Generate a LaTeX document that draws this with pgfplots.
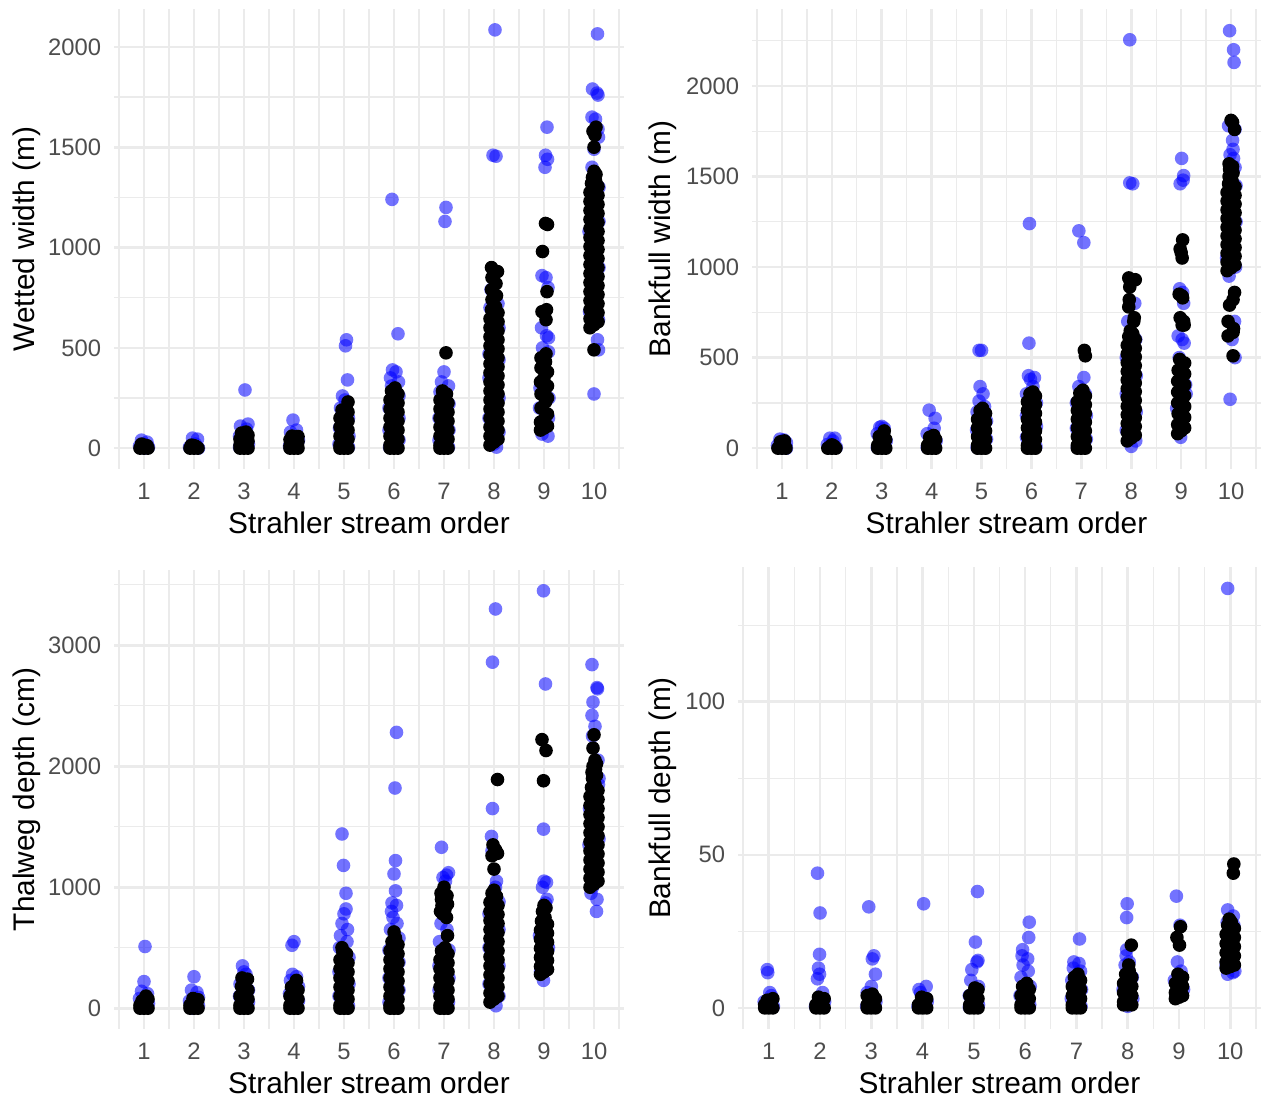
\documentclass[border=0pt]{standalone}
\usepackage{fontspec}
\setmainfont{Liberation Sans}
\usepackage{pgfplots}
\pgfplotsset{compat=1.18}
\definecolor{gridgray}{HTML}{EBEBEB}
\definecolor{ticktext}{HTML}{4D4D4D}

\pgfplotsset{
  strip/.style={
    scale only axis,
    anchor=south west,
    axis line style={draw=none},
    xmin=0.4, xmax=10.6,
    xtick={1,...,10},
    minor xtick={0.5,1.5,...,10.5},
    grid=both,
    major grid style={draw=gridgray, line width=1.3pt},
    minor grid style={draw=gridgray, line width=0.65pt},
    major tick length=0pt, minor tick length=0pt,
    /pgf/number format/assume math mode=true,
    /pgf/number format/1000 sep={},
    tick label style={font=\fontsize{11.9}{14}\selectfont, text=ticktext},
    xticklabel style={anchor=base, inner sep=0pt, yshift=-15pt},
    yticklabel style={anchor=east, inner sep=0pt, xshift=-6.3pt},
    label style={font=\fontsize{14.9}{17}\selectfont},
    xlabel={Strahler stream order},
    xlabel style={at={(rel axis cs:0.5,0)}, anchor=base, yshift=-32.3pt},
    ylabel style={at={(rel axis cs:0,0.5)}, anchor=center},
  },
  bluepts/.style={only marks, mark=*, mark size=3.4pt,
    mark options={fill=blue, fill opacity=0.55, draw opacity=0}},
  blackpts/.style={only marks, mark=*, mark size=3.4pt,
    mark options={fill=black, draw opacity=0}},
}

\begin{document}
\begin{tikzpicture}
\useasboundingbox (0,0) rectangle (634pt,550pt);

% wetted width
\begin{axis}[strip, at={(57pt,315.5pt)}, width=255pt, height=230pt,
  ymin=-104, ymax=2189, ytick={0,500,...,2000}, minor ytick={250,750,1250,1750},
  ylabel={Wetted width (m)}, ylabel style={yshift=43.5pt}]
\addplot[bluepts] coordinates {
(0.95,40) (1.06,30) (1.0,20) (0.91,10) (1.09,5) (1.02,0)
(1.97,50) (2.07,45) (2.03,20) (1.91,5) (2.09,0)
(3.02,290) (2.93,110) (3.08,120) (3.05,95) (2.91,60) (3.09,20) (2.91,5)
(3.98,140) (4.05,90) (3.93,80) (4.09,40) (3.91,10)
(5.05,540) (5.03,510) (5.07,340) (4.97,260) (5.02,240) (4.93,200) (5.09,150) (4.91,100) (5.1,60) (4.9,20) (5.09,5)
(5.96,1240) (6.08,570) (5.97,390) (6.04,380) (5.93,350) (6.09,330) (5.95,310) (6.1,260) (5.9,200) (6.1,150) (5.9,90) (6.1,40) (5.91,5)
(7.04,1200) (7.02,1130) (7.0,380) (6.95,330) (7.09,310) (6.92,280) (7.1,220) (6.9,150) (7.1,90) (6.9,40) (7.09,5)
(8.02,2085) (7.98,1460) (8.04,1455) (7.94,790) (8.08,720) (7.92,700) (8.1,600) (7.9,470) (8.1,440) (7.9,350) (8.1,250) (7.9,150) (8.1,80) (8.0,20) (8.05,5)
(9.06,1600) (9.03,1460) (9.07,1440) (9.02,1400) (8.96,860) (9.04,850) (9.08,800) (8.95,600) (9.05,560) (9.09,550) (8.97,500) (9.09,480) (8.92,300) (9.1,250) (8.91,200) (9.09,150) (9.08,60) (8.96,70)
(10.07,2065) (9.97,1790) (10.06,1770) (10.08,1760) (9.96,1650) (10.03,1640) (10.08,1590) (10.09,1550) (10.0,1490) (9.96,1400) (10.1,1300) (10.1,1130) (9.9,1080) (10.1,900) (9.91,680) (10.09,640) (10.07,540) (10.09,490) (10.0,270)
};
\addplot[blackpts] coordinates {
(0.92,0) (1.0,0) (1.08,0) (0.96,5) (1.04,8) (1.0,15) (0.95,20) (1.06,12)
(1.92,0) (2.0,0) (2.08,0) (1.96,5) (2.04,8) (2.0,12) (1.95,15)
(2.92,0) (3.0,0) (3.08,0) (2.92,15) (3.0,25) (3.08,35) (2.92,45) (3.0,55) (3.08,65) (2.95,75) (3.04,80)
(3.92,0) (4.0,0) (4.08,0) (3.92,12) (4.0,22) (4.08,32) (3.92,42) (4.0,50) (4.08,58) (3.96,60)
(4.92,0) (5.0,0) (5.08,0) (4.92,15) (5.0,30) (5.08,45) (4.92,60) (5.0,75) (5.08,90) (4.92,105) (5.0,120) (5.08,135) (4.92,150) (5.0,165) (5.08,180) (4.96,190) (5.08,230)
(5.92,0) (6.0,0) (6.08,0) (5.92,15) (6.0,30) (6.08,45) (5.92,60) (6.0,75) (6.08,90) (5.92,105) (6.0,120) (6.08,135) (5.92,150) (6.0,165) (6.08,180) (5.92,195) (6.0,210) (6.08,225) (5.92,240) (6.0,255) (6.08,270) (5.95,285) (6.02,300)
(6.92,0) (7.0,0) (7.08,0) (6.92,15) (7.0,30) (7.08,45) (6.92,60) (7.0,75) (7.08,90) (6.92,105) (7.0,120) (7.08,135) (6.92,150) (7.0,165) (7.08,180) (6.92,195) (7.0,210) (7.08,225) (6.92,240) (7.0,255) (7.05,270) (6.97,285) (7.04,475)
(7.92,15) (8.0,30) (8.08,45) (7.92,60) (8.0,75) (8.08,90) (7.92,105) (8.0,120) (8.08,135) (7.92,150) (8.0,165) (8.08,180) (7.92,195) (8.0,210) (8.08,225) (7.92,240) (8.0,255) (8.08,270) (7.92,285) (8.0,300) (8.08,315) (7.92,330) (8.0,345) (8.08,360) (7.92,375) (8.0,390) (8.08,405) (7.92,420) (8.0,435) (8.08,450) (7.92,465) (8.0,480) (8.08,495) (7.92,510) (8.0,525) (8.08,540) (7.92,555) (8.0,570) (8.08,585) (7.92,600) (8.0,615) (8.08,630) (7.92,645) (8.0,660) (8.08,675) (7.95,690) (8.03,705)
(7.96,740) (8.05,760) (7.95,790) (8.04,820) (7.96,850) (8.07,880) (7.95,900)
(8.93,90) (9.0,100) (9.07,110) (8.93,130) (9.02,150) (9.07,170) (8.94,200) (9.03,230) (9.07,250) (8.94,270) (9.02,290) (9.07,310) (8.93,330) (9.0,350) (9.07,380) (8.94,400) (9.03,430) (8.94,450) (9.04,470)
(9.04,640) (8.96,680) (9.05,690) (9.06,780) (8.97,980) (9.03,1120) (9.07,1115)
(9.92,600) (10.0,615) (10.08,630) (9.92,645) (10.0,660) (10.08,675) (9.92,690) (10.0,705) (10.08,720) (9.92,735) (10.0,750) (10.08,765) (9.92,780) (10.0,795) (10.08,810) (9.92,825) (10.0,840) (10.08,855) (9.92,870) (10.0,885) (10.08,900) (9.92,915) (10.0,930) (10.08,945) (9.92,960) (10.0,975) (10.08,990) (9.92,1005) (10.0,1020) (10.08,1035) (9.92,1050) (10.0,1065) (10.08,1080) (9.92,1095) (10.0,1110) (10.08,1125) (9.92,1140) (10.0,1155) (10.08,1170) (9.92,1185) (10.0,1200) (10.08,1215) (9.92,1230) (10.0,1245) (10.08,1260) (9.92,1275) (10.0,1290) (10.08,1305) (9.95,1320) (10.03,1335) (9.97,1350) (10.04,1365) (10.0,1380)
(10.0,1500) (10.02,1560) (9.98,1580) (10.04,1600) (10.0,490)
};
\end{axis}

% bankfull width
\begin{axis}[strip, at={(376pt,315.5pt)}, width=254.5pt, height=230pt,
  ymin=-115, ymax=2425, ytick={0,500,...,2000}, minor ytick={250,750,1250,1750,2250},
  ylabel={Bankfull width (m)}, ylabel style={yshift=44.5pt}]
\addplot[bluepts] coordinates {
(0.96,50) (1.04,45) (1.09,30) (0.91,15) (1.02,5) (1.09,0)
(1.96,55) (2.06,55) (2.02,40) (1.91,20) (2.09,5)
(3.0,120) (2.96,115) (3.05,110) (2.91,80) (3.09,40) (2.91,5)
(3.95,210) (4.07,165) (4.05,110) (3.91,80) (4.09,40) (3.91,5)
(4.95,540) (5.0,540) (4.97,340) (5.03,300) (4.95,260) (5.06,230) (4.91,200) (5.1,150) (4.9,100) (5.1,50) (4.91,5)
(5.96,1240) (5.95,580) (5.94,400) (6.06,390) (5.98,380) (6.03,340) (5.9,300) (6.1,250) (5.9,180) (6.1,120) (5.9,60) (6.09,10)
(6.95,1200) (7.05,1135) (7.05,390) (6.95,340) (7.08,300) (6.9,250) (7.1,180) (6.9,110) (7.1,50) (6.92,5)
(7.97,2255) (7.97,1465) (8.03,1460) (8.07,800) (7.93,700) (8.09,600) (7.9,500) (8.1,400) (7.9,300) (8.1,200) (7.9,100) (8.09,40) (8.0,10)
(9.01,1600) (9.05,1505) (9.04,1480) (8.98,1460) (8.97,880) (9.03,860) (9.05,800) (8.94,620) (9.02,600) (9.06,580) (8.96,500) (9.09,350) (8.91,220) (9.1,300) (8.99,60)
(9.97,2305) (10.05,2200) (10.06,2130) (9.95,1780) (10.08,1760) (10.03,1700) (10.04,1650) (9.98,1620) (10.05,1600) (10.08,1550) (10.1,1450) (10.1,1250) (9.91,1050) (10.09,1000) (9.96,950) (10.07,700) (10.02,600) (10.08,500) (9.98,270)
};
\addplot[blackpts] coordinates {
(0.92,0) (1.0,0) (1.08,0) (0.96,10) (1.04,15) (1.0,25) (0.97,35) (1.05,40)
(1.92,0) (2.0,0) (2.08,0) (1.96,8) (2.04,12) (2.0,18)
(2.92,0) (3.0,0) (3.08,0) (2.92,16) (3.0,32) (3.08,48) (2.95,64) (3.03,80) (3.05,95)
(3.92,0) (4.0,0) (4.08,0) (3.92,16) (4.0,32) (4.08,48) (3.96,60) (4.04,70)
(4.92,0) (5.0,0) (5.08,0) (4.92,16) (5.0,32) (5.08,48) (4.92,64) (5.0,80) (5.08,96) (4.92,112) (5.0,128) (5.08,144) (4.92,160) (5.0,176) (5.08,192) (4.97,208) (5.02,220)
(5.92,0) (6.0,0) (6.08,0) (5.92,16) (6.0,32) (6.08,48) (5.92,64) (6.0,80) (6.08,96) (5.92,112) (6.0,128) (6.08,144) (5.92,160) (6.0,176) (6.08,192) (5.92,208) (6.0,224) (6.08,240) (5.92,256) (6.0,272) (6.08,288) (5.97,300) (6.03,310)
(6.92,0) (7.0,0) (7.08,0) (6.92,16) (7.0,32) (7.08,48) (6.92,64) (7.0,80) (7.08,96) (6.92,112) (7.0,128) (7.08,144) (6.92,160) (7.0,176) (7.08,192) (6.92,208) (7.0,224) (7.08,240) (6.92,256) (7.0,272) (7.08,288) (6.97,304) (7.03,320) (7.06,540) (7.08,510)
(7.92,40) (8.0,56) (8.08,72) (7.92,88) (8.0,104) (8.08,120) (7.92,136) (8.0,152) (8.08,168) (7.92,184) (8.0,200) (8.08,216) (7.92,232) (8.0,248) (8.08,264) (7.92,280) (8.0,296) (8.08,312) (7.92,328) (8.0,344) (8.08,360) (7.92,376) (8.0,392) (8.08,408) (7.92,424) (8.0,440) (8.08,456) (7.92,472) (8.0,488) (8.08,504) (7.92,520) (8.0,536) (8.08,552) (7.92,568) (8.0,584) (8.08,600) (7.95,616) (8.03,632) (7.98,648)
(8.05,700) (8.06,720) (7.95,780) (7.96,820) (7.97,890) (7.95,940) (8.08,930) (7.98,920)
(8.93,80) (9.0,96) (9.07,112) (8.93,130) (9.0,150) (9.07,170) (8.94,190) (9.02,210) (9.07,230) (8.93,250) (9.0,270) (9.07,290) (8.93,310) (9.0,330) (9.07,350) (8.93,370) (9.0,390) (9.07,410) (8.94,430) (9.02,450) (9.07,470) (8.97,490)
(9.02,680) (9.05,700) (8.98,720) (9.06,680) (8.96,850) (9.02,840) (9.03,830) (9.0,1080) (9.02,1050) (8.98,1100) (9.03,1150)
(9.92,980) (10.0,996) (10.08,1012) (9.92,1028) (10.0,1044) (10.08,1060) (9.92,1076) (10.0,1092) (10.08,1108) (9.92,1124) (10.0,1140) (10.08,1156) (9.92,1172) (10.0,1188) (10.08,1204) (9.92,1220) (10.0,1236) (10.08,1252) (9.92,1268) (10.0,1284) (10.08,1300) (9.92,1316) (10.0,1332) (10.08,1348) (9.92,1364) (10.0,1380) (10.08,1396) (9.92,1412) (10.0,1428) (10.08,1444) (9.95,1460) (10.02,1476) (9.96,1500) (10.04,1520) (9.97,1540) (10.03,1555) (9.96,1570)
(10.0,1810) (10.03,1800) (10.07,1760) (10.07,860) (10.04,820) (9.97,790) (9.94,700) (10.05,660) (10.04,640) (9.94,620) (10.04,510)
};
\end{axis}

% thalweg depth
\begin{axis}[strip, at={(57pt,35.5pt)}, width=255pt, height=229.5pt,
  ymin=-172, ymax=3622, ytick={0,1000,2000,3000}, minor ytick={500,1500,2500,3500},
  ylabel={Thalweg depth (cm)}, ylabel style={yshift=43.5pt}]
\addplot[bluepts] coordinates {
(1.02,510) (1.0,220) (0.95,140) (1.07,120) (0.91,80) (1.09,40) (0.98,5)
(2.0,260) (1.95,150) (2.06,130) (2.09,90) (1.91,60) (2.09,20) (1.97,0)
(2.97,350) (3.0,300) (3.04,280) (2.92,200) (3.09,150) (2.91,100) (3.09,50) (2.98,5)
(3.96,520) (4.0,550) (3.97,280) (4.05,260) (3.93,230) (4.09,180) (3.91,120) (4.09,60) (3.98,5)
(4.96,1440) (4.99,1180) (5.04,950) (5.04,820) (5.0,780) (4.96,700) (5.07,650) (4.93,600) (5.06,550) (4.91,500) (5.1,420) (4.9,300) (5.1,200) (4.9,100) (5.09,20)
(6.05,2280) (6.02,1820) (6.03,1220) (6.0,1110) (6.03,970) (5.96,870) (6.05,850) (5.95,800) (5.98,750) (6.06,700) (5.93,650) (6.1,580) (5.9,480) (6.1,380) (5.9,250) (6.1,150) (5.9,50)
(6.95,1330) (7.09,1120) (7.05,1100) (6.98,1080) (7.03,1050) (6.94,700) (7.06,650) (6.91,550) (7.1,480) (6.9,350) (7.1,250) (6.9,150) (7.09,50) (7.0,5)
(8.03,3300) (7.97,2860) (7.97,1650) (7.95,1420) (7.96,1300) (8.05,1050) (8.03,1000) (8.1,880) (7.9,780) (8.1,650) (7.9,500) (8.1,350) (7.9,200) (8.1,100) (8.04,20)
(8.99,3450) (9.03,2680) (8.99,1480) (9.0,1050) (9.05,1040) (8.97,1000) (9.06,900) (9.03,870) (8.91,600) (9.09,500) (8.93,300) (8.99,230)
(9.96,2840) (10.06,2650) (10.07,2640) (9.98,2530) (9.96,2420) (10.02,2330) (9.97,2250) (10.08,2050) (10.1,1900) (10.09,1850) (9.91,1650) (10.1,1400) (9.9,1350) (9.97,1000) (9.94,950) (10.06,900) (10.05,800)
};
\addplot[blackpts] coordinates {
(0.92,0) (1.0,0) (1.08,0) (0.92,25) (1.0,50) (1.08,75) (1.04,100) (0.96,60)
(1.92,0) (2.0,0) (2.08,0) (1.92,25) (2.0,50) (2.08,70) (1.98,80)
(2.92,0) (3.0,0) (3.08,0) (2.92,25) (3.0,50) (3.08,75) (2.92,100) (3.0,125) (3.08,150) (2.95,180) (2.96,250) (3.07,240)
(3.92,0) (4.0,0) (4.08,0) (3.92,25) (4.0,50) (4.08,75) (3.92,100) (4.0,125) (4.08,150) (3.95,175) (4.02,200) (4.05,230)
(4.92,0) (5.0,0) (5.08,0) (4.92,25) (5.0,50) (5.08,75) (4.92,100) (5.0,125) (5.08,150) (4.92,175) (5.0,200) (5.08,225) (4.92,250) (5.0,275) (5.08,300) (4.92,325) (5.0,350) (5.08,375) (4.92,400) (5.0,425) (5.05,450) (4.97,475) (4.96,500)
(5.92,0) (6.0,0) (6.08,0) (5.92,25) (6.0,50) (6.08,75) (5.92,100) (6.0,125) (6.08,150) (5.92,175) (6.0,200) (6.08,225) (5.92,250) (6.0,275) (6.08,300) (5.92,325) (6.0,350) (6.08,375) (5.92,400) (6.0,425) (6.08,450) (5.92,475) (6.0,500) (6.08,525) (5.96,550) (6.03,580) (6.0,630)
(6.92,0) (7.0,0) (7.08,0) (6.92,25) (7.0,50) (7.08,75) (6.92,100) (7.0,125) (7.08,150) (6.92,175) (7.0,200) (7.08,225) (6.92,250) (7.0,275) (7.08,300) (6.92,325) (7.0,350) (7.08,375) (6.92,400) (7.0,425) (7.08,450) (6.95,475) (7.02,500) (7.07,600)
(6.93,800) (6.97,780) (7.05,750) (6.94,950) (7.06,930) (6.95,900) (7.04,880) (6.96,850) (7.07,860) (7.0,1000) (7.02,820) (6.97,920)
(7.92,50) (8.0,75) (8.08,100) (7.92,125) (8.0,150) (8.08,175) (7.92,200) (8.0,225) (8.08,250) (7.92,275) (8.0,300) (8.08,325) (7.92,350) (8.0,375) (8.08,400) (7.92,425) (8.0,450) (8.08,475) (7.92,500) (8.0,525) (8.08,550) (7.92,575) (8.0,600) (8.08,625) (7.92,650) (8.0,675) (8.08,700) (7.92,725) (8.0,750) (8.08,775) (7.92,800) (8.0,825) (8.08,850) (7.92,875) (8.0,900) (8.05,925) (7.96,950) (8.0,975)
(8.07,1890) (7.98,1350) (8.03,1310) (8.07,1280) (7.96,1260) (8.0,1150)
(8.93,280) (9.0,300) (9.07,320) (8.93,345) (9.0,370) (9.07,395) (8.93,420) (9.0,445) (9.07,470) (8.93,495) (9.0,520) (9.07,545) (8.93,570) (9.0,595) (9.07,620) (8.93,645) (9.0,670) (9.07,695) (8.95,720) (9.02,750) (8.97,800) (9.04,830) (9.0,850)
(8.96,2220) (9.04,2130) (8.99,1880)
(9.92,1000) (10.0,1025) (10.08,1050) (9.92,1075) (10.0,1100) (10.08,1125) (9.92,1150) (10.0,1175) (10.08,1200) (9.92,1225) (10.0,1250) (10.08,1275) (9.92,1300) (10.0,1325) (10.08,1350) (9.92,1375) (10.0,1400) (10.08,1425) (9.92,1450) (10.0,1475) (10.08,1500) (9.92,1525) (10.0,1550) (10.08,1575) (9.92,1600) (10.0,1625) (10.08,1650) (9.92,1675) (10.0,1700) (10.08,1725) (9.92,1750) (10.0,1775) (10.08,1800) (9.95,1825) (10.02,1850) (9.97,1900) (10.05,1925) (9.96,1950) (10.03,1975) (9.98,2000) (10.05,2020) (10.02,2050)
(9.98,2150) (10.0,2260)
};
\end{axis}

% bankfull depth
\begin{axis}[strip, at={(369pt,35.5pt)}, width=261.5pt, height=231pt,
  ymin=-6.9, ymax=144, ytick={0,50,100}, minor ytick={25,75,125},
  ylabel={Bankfull depth (m)}, ylabel style={yshift=37.5pt}]
\addplot[bluepts] coordinates {
(0.97,12.5) (0.98,11.5) (1.02,5) (1.05,4) (0.91,2) (1.09,0.5)
(1.95,44) (2.0,31) (1.99,17.5) (1.97,13) (1.99,11) (1.95,9.5) (2.05,5) (2.09,2) (1.91,0.5)
(2.95,33) (3.05,17) (3.02,16) (3.08,11) (3.0,7) (2.92,5) (3.09,2) (2.91,0.5)
(4.02,34) (4.07,7) (3.93,6) (3.96,5) (4.09,2) (3.91,0.5)
(5.07,38) (5.03,21.5) (5.08,15.5) (5.06,15) (4.96,12.5) (4.94,9) (5.09,7) (4.91,4) (5.09,1) (4.91,0.3)
(6.08,28) (6.07,23) (5.95,19) (5.94,17) (6.05,16) (5.96,14) (6.06,12) (5.92,10) (6.1,7) (5.9,4) (6.09,1)
(7.06,22.5) (6.95,15) (7.05,14.5) (6.94,13) (7.08,12) (6.91,9) (7.1,6) (6.9,3) (7.09,0.5)
(7.99,34) (7.98,29.5) (7.98,19) (7.97,17) (8.03,15) (7.95,14) (8.09,10) (7.91,6) (8.1,3) (8.0,0.5)
(8.95,36.5) (9.02,27) (8.97,15) (9.04,12) (8.91,9) (9.09,6) (8.94,4)
(9.95,137) (9.95,32) (10.06,30) (9.94,28) (10.07,27) (9.92,14) (10.09,12) (9.95,11) (10.05,11.5)
};
\addplot[blackpts] coordinates {
(0.92,0) (1.0,0) (1.08,0) (0.92,1) (1.0,2) (1.08,3) (0.97,2.5) (1.04,1.5)
(1.92,0) (2.0,0) (2.08,0) (1.92,1) (2.0,2) (2.08,3) (1.97,3.5)
(2.92,0) (3.0,0) (3.08,0) (2.92,1) (3.0,2) (3.08,3) (2.92,4) (3.02,4.5)
(3.92,0) (4.0,0) (4.08,0) (3.92,1) (4.0,2) (4.08,3) (3.98,3.5)
(4.92,0) (5.0,0) (5.08,0) (4.92,1) (5.0,2) (5.08,3) (4.92,4) (5.0,5) (5.08,6) (5.02,6.5)
(5.92,0) (6.0,0) (6.08,0) (5.92,1) (6.0,2) (6.08,3) (5.92,4) (6.0,5) (6.08,6) (5.95,7) (6.03,8)
(6.92,0) (7.0,0) (7.08,0) (6.92,1) (7.0,2) (7.08,3) (6.92,4) (7.0,5) (7.08,6) (6.92,7) (7.0,8) (7.08,9) (6.96,10) (7.03,11)
(7.92,1) (8.0,1) (8.08,1) (7.92,2) (8.0,3) (8.08,4) (7.92,5) (8.0,6) (8.08,7) (7.92,8) (8.0,9) (8.08,10) (7.96,11) (8.03,12) (8.02,14) (8.07,20.5)
(8.93,3) (9.0,3.5) (9.07,4) (8.93,5) (9.0,6) (9.07,7) (8.93,8) (9.0,9) (9.07,10) (8.98,11) (9.03,26.5) (8.96,23) (9.01,20.5)
(9.92,13) (10.0,13.5) (10.08,14) (9.92,15) (10.0,16) (10.08,17) (9.92,18) (10.0,19) (10.08,20) (9.92,21) (10.0,22) (10.08,23) (9.92,24) (10.0,25) (10.08,26) (9.95,27) (10.02,28) (9.98,29) (10.07,47) (10.06,44)
};
\end{axis}
\end{tikzpicture}
\end{document}
